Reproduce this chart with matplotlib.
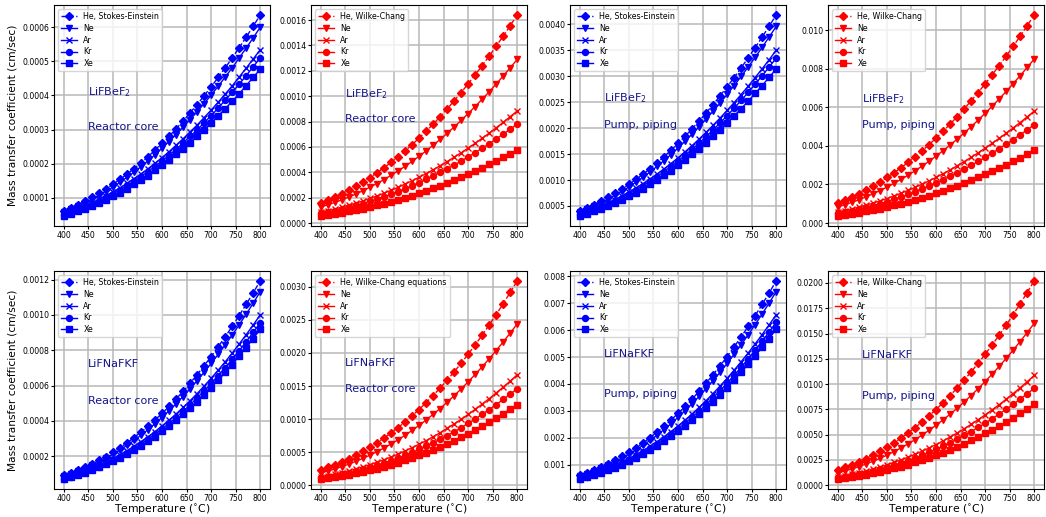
import matplotlib
matplotlib.use('Agg')
import matplotlib.pyplot as plt

# Temperatures (deg C) of the computed points
temp_c = [400.0, 414.3, 428.6, 442.9, 457.1, 471.4, 485.7, 500.0, 514.3, 528.6,
          542.9, 557.1, 571.4, 585.7, 600.0, 614.3, 628.6, 642.9, 657.1, 671.4,
          685.7, 700.0, 714.3, 728.6, 742.9, 757.1, 771.4, 785.7, 800.0]

# --- mass transfer coefficients, in 1e-6 cm/sec ---

# LiFBeF2, reactor core, Stokes-Einstein
fb_core_se_he = [62.1, 70.8, 80.1, 90.3, 101, 113, 126, 139, 154, 169, 185, 202, 220, 240, 260, 280, 302, 325, 349, 373, 399, 425, 453, 481, 510, 540, 571, 603, 636]
fb_core_se_ne = [58.6, 66.8, 75.6, 85.2, 95.5, 107, 119, 131, 145, 160, 175, 191, 208, 226, 245, 265, 285, 307, 329, 352, 376, 401, 427, 454, 481, 510, 539, 569, 600]
fb_core_se_ar = [52.2, 59.4, 67.3, 75.8, 85.0, 94.9, 106, 117, 129, 142, 156, 170, 185, 201, 218, 235, 254, 273, 293, 313, 335, 357, 380, 404, 428, 454, 480, 507, 534]
fb_core_se_kr = [49.8, 56.8, 64.3, 72.4, 81.2, 90.7, 101, 112, 123, 136, 149, 162, 177, 192, 208, 225, 242, 261, 280, 299, 320, 341, 363, 386, 409, 433, 458, 484, 510]
fb_core_se_xe = [46.6, 53.1, 60.1, 67.7, 75.9, 84.8, 94.3, 104, 115, 127, 139, 152, 165, 180, 195, 210, 227, 244, 262, 280, 299, 319, 340, 361, 383, 405, 429, 453, 477]

# LiFBeF2, reactor core, Wilke-Chang
fb_core_wc_he = [160, 183, 207, 233, 261, 292, 324, 359, 396, 436, 478, 522, 569, 618, 669, 723, 779, 838, 899, 963, 1029, 1097, 1168, 1241, 1316, 1394, 1473, 1556, 1640]
fb_core_wc_ne = [126, 144, 163, 183, 205, 229, 255, 283, 312, 343, 376, 411, 447, 486, 526, 569, 613, 659, 707, 757, 809, 863, 919, 976, 1035, 1096, 1159, 1224, 1290]
fb_core_wc_ar = [86.4, 98.4, 111, 126, 141, 157, 175, 194, 214, 235, 258, 281, 307, 333, 361, 390, 420, 452, 485, 519, 554, 591, 629, 669, 709, 751, 794, 839, 884]
fb_core_wc_kr = [76.2, 86.8, 98.3, 111, 124, 139, 154, 171, 189, 207, 227, 248, 270, 294, 318, 344, 371, 399, 428, 458, 489, 522, 555, 590, 626, 663, 701, 740, 780]
fb_core_wc_xe = [56.3, 64.1, 72.6, 81.8, 91.7, 102, 114, 126, 139, 153, 168, 183, 200, 217, 235, 254, 274, 294, 316, 338, 361, 385, 410, 436, 462, 490, 518, 546, 576]

# LiFBeF2, pump and piping, Stokes-Einstein
fb_pump_se_he = [408, 465, 527, 594, 666, 743, 826, 915, 1010, 1111, 1218, 1331, 1449, 1574, 1705, 1843, 1986, 2136, 2292, 2454, 2622, 2796, 2976, 3162, 3354, 3552, 3755, 3965, 4180]
fb_pump_se_ne = [387, 441, 499, 562, 630, 704, 783, 867, 957, 1053, 1154, 1261, 1373, 1491, 1616, 1746, 1882, 2024, 2171, 2325, 2484, 2649, 2820, 2996, 3178, 3365, 3558, 3757, 3960]
fb_pump_se_ar = [342, 390, 441, 497, 557, 622, 692, 767, 846, 930, 1020, 1114, 1214, 1318, 1428, 1543, 1663, 1789, 1919, 2055, 2195, 2341, 2492, 2648, 2808, 2974, 3144, 3320, 3500]
fb_pump_se_kr = [327, 373, 422, 476, 533, 596, 662, 734, 810, 890, 976, 1066, 1161, 1262, 1367, 1477, 1592, 1712, 1837, 1967, 2101, 2241, 2385, 2534, 2688, 2847, 3010, 3178, 3350]
fb_pump_se_xe = [307, 350, 396, 446, 500, 558, 621, 688, 759, 835, 915, 1000, 1089, 1183, 1281, 1384, 1492, 1605, 1722, 1843, 1969, 2100, 2236, 2375, 2520, 2668, 2821, 2979, 3140]

# LiFBeF2, pump and piping, Wilke-Chang
fb_pump_wc_he = [1053, 1200, 1358, 1531, 1716, 1917, 2131, 2361, 2606, 2865, 3140, 3431, 3737, 4060, 4398, 4753, 5123, 5509, 5911, 6328, 6761, 7211, 7675, 8155, 8650, 9161, 9685, 10226, 10780]
fb_pump_wc_ne = [831, 946, 1071, 1207, 1353, 1511, 1680, 1862, 2054, 2259, 2476, 2706, 2947, 3201, 3468, 3748, 4039, 4344, 4661, 4990, 5331, 5686, 6052, 6430, 6820, 7223, 7636, 8063, 8500]
fb_pump_wc_ar = [567, 646, 731, 824, 923, 1031, 1147, 1270, 1402, 1542, 1690, 1846, 2011, 2184, 2366, 2557, 2756, 2964, 3180, 3405, 3638, 3880, 4130, 4388, 4654, 4929, 5211, 5502, 5800]
fb_pump_wc_kr = [497, 567, 641, 723, 810, 905, 1006, 1115, 1230, 1353, 1483, 1620, 1765, 1917, 2077, 2244, 2419, 2601, 2791, 2988, 3192, 3405, 3624, 3851, 4084, 4325, 4573, 4828, 5090]
fb_pump_wc_xe = [368, 420, 475, 535, 600, 670, 745, 826, 911, 1002, 1098, 1200, 1307, 1420, 1538, 1662, 1792, 1926, 2067, 2213, 2365, 2522, 2684, 2852, 3025, 3204, 3387, 3576, 3770]

# LiFNaFKF, reactor core, Stokes-Einstein
fn_core_se_he = [90.9, 105, 120, 137, 156, 176, 198, 222, 248, 275, 305, 336, 369, 405, 442, 482, 524, 567, 613, 661, 712, 764, 819, 876, 935, 996, 1060, 1125, 1193]
fn_core_se_ne = [86.2, 99.4, 114, 130, 148, 167, 188, 211, 235, 261, 289, 318, 350, 384, 419, 457, 496, 538, 581, 627, 675, 725, 776, 830, 886, 944, 1004, 1067, 1131]
fn_core_se_ar = [76.2, 87.9, 101, 115, 131, 148, 166, 186, 208, 231, 255, 282, 310, 339, 371, 404, 439, 476, 514, 554, 597, 641, 687, 734, 784, 835, 888, 943, 1000]
fn_core_se_kr = [72.8, 83.9, 96.4, 110, 125, 141, 159, 178, 198, 220, 244, 269, 296, 324, 354, 386, 419, 454, 491, 530, 570, 612, 656, 701, 748, 797, 848, 901, 955]
fn_core_se_xe = [70.0, 80.7, 92.6, 106, 120, 136, 153, 171, 191, 212, 234, 258, 284, 311, 340, 371, 403, 437, 472, 509, 548, 588, 630, 674, 719, 767, 815, 866, 918]

# LiFNaFKF, reactor core, Wilke-Chang
fn_core_wc_he = [236, 272, 312, 356, 404, 457, 514, 575, 642, 713, 789, 870, 956, 1048, 1145, 1248, 1356, 1469, 1589, 1713, 1844, 1980, 2121, 2269, 2422, 2580, 2744, 2915, 3090]
fn_core_wc_ne = [186, 215, 246, 281, 319, 361, 406, 454, 507, 563, 623, 687, 755, 828, 904, 985, 1071, 1160, 1254, 1353, 1456, 1563, 1675, 1791, 1912, 2037, 2167, 2301, 2440]
fn_core_wc_ar = [127, 147, 169, 192, 218, 247, 278, 311, 347, 385, 426, 470, 517, 567, 619, 674, 733, 794, 859, 926, 996, 1070, 1147, 1226, 1309, 1395, 1483, 1575, 1670]
fn_core_wc_kr = [111, 128, 147, 168, 191, 216, 243, 272, 303, 337, 373, 411, 452, 495, 541, 590, 641, 694, 751, 809, 871, 935, 1002, 1072, 1144, 1219, 1297, 1377, 1460]
fn_core_wc_xe = [93.0, 107, 123, 141, 160, 180, 203, 227, 253, 281, 311, 343, 378, 414, 452, 493, 535, 580, 627, 676, 728, 782, 838, 896, 956, 1019, 1083, 1151, 1220]

# LiFNaFKF, pump and piping, Stokes-Einstein
fn_pump_se_he = [597, 688, 790, 902, 1024, 1157, 1301, 1457, 1626, 1806, 1999, 2204, 2423, 2656, 2902, 3162, 3436, 3723, 4025, 4341, 4671, 5016, 5375, 5749, 6136, 6538, 6954, 7385, 7830]
fn_pump_se_ne = [566, 653, 750, 856, 972, 1098, 1235, 1383, 1543, 1713, 1897, 2092, 2300, 2520, 2754, 3000, 3260, 3533, 3820, 4119, 4433, 4760, 5101, 5455, 5823, 6204, 6599, 7008, 7430]
fn_pump_se_ar = [501, 578, 663, 757, 859, 971, 1092, 1223, 1364, 1515, 1677, 1850, 2033, 2229, 2435, 2653, 2883, 3124, 3378, 3642, 3920, 4209, 4510, 4824, 5149, 5486, 5835, 6197, 6570]
fn_pump_se_kr = [479, 553, 635, 725, 823, 930, 1045, 1171, 1306, 1451, 1606, 1771, 1947, 2134, 2331, 2540, 2760, 2991, 3234, 3487, 3753, 4029, 4318, 4618, 4930, 5252, 5586, 5933, 6290]
fn_pump_se_xe = [460, 530, 608, 695, 789, 891, 1002, 1122, 1252, 1391, 1540, 1697, 1866, 2045, 2235, 2435, 2646, 2867, 3100, 3343, 3598, 3863, 4140, 4427, 4726, 5035, 5355, 5688, 6030]

# LiFNaFKF, pump and piping, Wilke-Chang
fn_pump_wc_he = [1539, 1776, 2038, 2327, 2642, 2986, 3357, 3759, 4194, 4658, 5157, 5686, 6252, 6852, 7486, 8157, 8864, 9605, 10385, 11199, 12051, 12940, 13867, 14831, 15831, 16867, 17940, 19053, 20200]
fn_pump_wc_ne = [1219, 1406, 1614, 1843, 2093, 2365, 2659, 2978, 3322, 3690, 4085, 4504, 4952, 5427, 5930, 6461, 7021, 7608, 8226, 8870, 9546, 10250, 10984, 11747, 12539, 13360, 14210, 15091, 16000]
fn_pump_wc_ar = [827, 954, 1095, 1250, 1419, 1604, 1803, 2019, 2253, 2502, 2770, 3054, 3358, 3680, 4021, 4381, 4761, 5159, 5578, 6015, 6473, 6951, 7449, 7966, 8503, 9060, 9636, 10234, 10850]
fn_pump_wc_kr = [730, 842, 967, 1104, 1253, 1416, 1592, 1783, 1989, 2209, 2446, 2697, 2965, 3250, 3550, 3868, 4204, 4555, 4925, 5311, 5715, 6137, 6577, 7034, 7508, 7999, 8508, 9036, 9580]
fn_pump_wc_xe = [610, 703, 807, 922, 1046, 1182, 1330, 1489, 1661, 1845, 2042, 2252, 2476, 2714, 2965, 3230, 3510, 3804, 4113, 4435, 4773, 5125, 5492, 5874, 6270, 6680, 7105, 7546, 8000]

gases = ['He', 'Ne', 'Ar', 'Kr', 'Xe']
styles = [('D', '--'), ('v', '-'), ('x', '-'), ('o', '-'), ('s', '-')]

# (row, col, colour, He label, series, salt, location, y of the two notes)
panels = [
    (0, 0, 'blue', 'He, Stokes-Einstein',
     [fb_core_se_he, fb_core_se_ne, fb_core_se_ar, fb_core_se_kr, fb_core_se_xe],
     'LiFBeF$_2$', 'Reactor core', (0.604, 0.45)),
    (0, 1, 'red', 'He, Wilke-Chang',
     [fb_core_wc_he, fb_core_wc_ne, fb_core_wc_ar, fb_core_wc_kr, fb_core_wc_xe],
     'LiFBeF$_2$', 'Reactor core', (0.595, 0.486)),
    (0, 2, 'blue', 'He, Stokes-Einstein',
     [fb_pump_se_he, fb_pump_se_ne, fb_pump_se_ar, fb_pump_se_kr, fb_pump_se_xe],
     'LiFBeF$_2$', 'Pump, piping', (0.577, 0.455)),
    (0, 3, 'red', 'He, Wilke-Chang',
     [fb_pump_wc_he, fb_pump_wc_ne, fb_pump_wc_ar, fb_pump_wc_kr, fb_pump_wc_xe],
     'LiFBeF$_2$', 'Pump, piping', (0.572, 0.455)),
    (1, 0, 'blue', 'He, Stokes-Einstein',
     [fn_core_se_he, fn_core_se_ne, fn_core_se_ar, fn_core_se_kr, fn_core_se_xe],
     'LiFNaFKF', 'Reactor core', (0.573, 0.404)),
    (1, 1, 'red', 'He, Wilke-Chang equations',
     [fn_core_wc_he, fn_core_wc_ne, fn_core_wc_ar, fn_core_wc_kr, fn_core_wc_xe],
     'LiFNaFKF', 'Reactor core', (0.578, 0.459)),
    (1, 2, 'blue', 'He, Stokes-Einstein',
     [fn_pump_se_he, fn_pump_se_ne, fn_pump_se_ar, fn_pump_se_kr, fn_pump_se_xe],
     'LiFNaFKF', 'Pump, piping', (0.619, 0.436)),
    (1, 3, 'red', 'He, Wilke-Chang',
     [fn_pump_wc_he, fn_pump_wc_ne, fn_pump_wc_ar, fn_pump_wc_kr, fn_pump_wc_xe],
     'LiFNaFKF', 'Pump, piping', (0.615, 0.427)),
]

W, H = 1046, 517
fig = plt.figure(figsize=(W / 100, H / 100), dpi=100)

lefts = [54, 311, 570, 828]
rows = [(5, 226), (271, 489)]   # top / bottom pixel of each row
width = 216

for row, col, color, he_label, series, salt, place, (y1, y2) in panels:
    top, bot = rows[row]
    ax = fig.add_axes([lefts[col] / W, (H - bot) / H, width / W, (bot - top) / H])

    for gas, (mk, ls), vals in zip(gases, styles, series):
        label = he_label if gas == 'He' else gas
        ax.plot(temp_c, [v * 1e-6 for v in vals], color=color, marker=mk, ls=ls,
                lw=1.0, ms=4.3, label=label)

    ax.set_xticks([400, 450, 500, 550, 600, 650, 700, 750, 800])
    ax.tick_params(labelsize=5.6, length=2.2, pad=1.3)
    ax.grid(True, color='#b8b8b8', lw=1.1)
    ax.set_axisbelow(True)
    ax.legend(loc='upper left', fontsize=5.7, labelspacing=0.35)

    tr = ax.get_xaxis_transform()
    ax.text(450, y1, salt, transform=tr, color='#14148c', fontsize=8, va='center')
    ax.text(450, y2, place, transform=tr, color='#14148c', fontsize=8, va='center')

    if col == 0:
        ax.set_ylabel('Mass transfer coefficient (cm/sec)', fontsize=7.7, labelpad=3)
    if row == 1:
        ax.set_xlabel('Temperature ($^{\\circ}$C)', fontsize=7.8, labelpad=0)

fig.savefig('out.png', dpi=100)
